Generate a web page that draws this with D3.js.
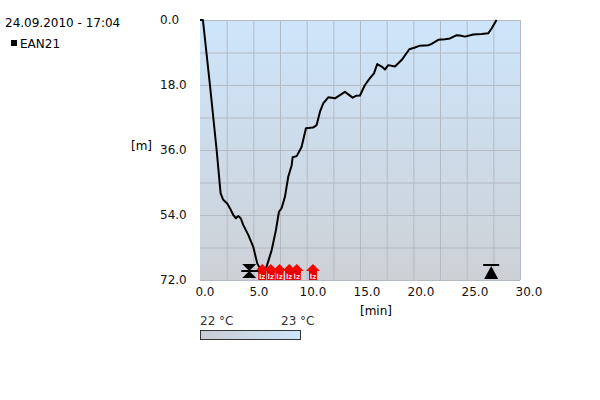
<!DOCTYPE html>
<html>
<head>
<meta charset="utf-8">
<script src="https://cdn.jsdelivr.net/npm/d3@7"></script>
<style>
  body { margin: 0; background: #fff; }
  text { font-family: "DejaVu Sans", sans-serif; }
</style>
</head>
<body>
<div id="canvas"></div>
<script>
// dive profile: time [min] vs depth [m]
const times = [-0.46, -0.19, 0.46, 1.08, 1.45, 1.69, 2.06, 2.31, 2.62, 2.87, 3.08, 3.31, 3.55, 4.01, 4.47, 4.84,
    5.28, 5.71, 6.18, 6.57, 6.85, 7.10, 7.41, 7.71, 8.03, 8.12, 8.49, 8.80, 8.95, 9.35, 10.0, 10.34, 10.65, 10.95,
    11.42, 12.04, 12.5, 12.96, 13.68, 13.98, 14.35, 14.81, 15.28, 15.65, 15.95, 16.36, 16.67, 16.97, 17.59, 18.21,
    18.92, 19.44, 19.91, 20.68, 20.99, 21.6, 22.22, 22.69, 23.31, 23.61, 24.07, 24.84, 25.62, 26.23, 26.55, 27.0];
const depths = [0, 0, 18.0, 36.0, 48.0, 49.8, 50.8, 52.1, 54.0, 54.9, 54.3, 54.9, 56.8, 59.5, 62.8, 67.4,
    69.8, 68.3, 63.7, 58.2, 53.1, 52.1, 48.9, 43.4, 40.2, 38.0, 37.7, 36.0, 35.1, 30.0, 29.8, 29.1, 25.4, 23.1,
    21.4, 21.7, 20.8, 19.9, 21.5, 21.0, 20.9, 18.0, 16.1, 14.8, 12.2, 12.9, 13.7, 12.5, 12.9, 11.1,
    8.1, 7.6, 7.1, 7.0, 6.6, 5.5, 5.3, 5.1, 4.2, 4.3, 4.6, 4.0, 3.9, 3.7, 2.3, 0];

const xTicks = [0, 5, 10, 15, 20, 25, 30];
const yTicks = [0, 18, 36, 54, 72];
const warnTimes = [5.3, 6.1, 6.9, 7.8, 8.5, 10.0];   // red markers
const bottomStart = 4.1;   // hourglass marker
const surfaceTime = 26.5;  // ascent marker
const tempLabels = ["22 °C", "23 °C"];
const title = "24.09.2010 - 17:04";
const seriesName = "EAN21";

const W = 600, H = 400;
const plot = {left: 200, right: 520, top: 20, bottom: 280};

const svg = d3.select("#canvas").append("svg")
    .attr("width", W).attr("height", H);

const defs = svg.append("defs");
const bg = defs.append("linearGradient").attr("id", "bg")
    .attr("x1", 0).attr("y1", 0).attr("x2", 0).attr("y2", 1);
bg.append("stop").attr("offset", "0%").attr("stop-color", "#cde5fb");
bg.append("stop").attr("offset", "100%").attr("stop-color", "#cdd1d6");

const tg = defs.append("linearGradient").attr("id", "tg")
    .attr("x1", 0).attr("y1", 0).attr("x2", 1).attr("y2", 0);
tg.append("stop").attr("offset", "0%").attr("stop-color", "#c9ccd1");
tg.append("stop").attr("offset", "100%").attr("stop-color", "#cde5fb");

defs.append("clipPath").attr("id", "clip").append("rect")
    .attr("x", plot.left).attr("y", plot.top - 2)
    .attr("width", plot.right - plot.left).attr("height", plot.bottom - plot.top + 2);

const x = d3.scaleLinear().domain([-0.46, 29.17]).range([plot.left, plot.right]);
const y = d3.scaleLinear().domain([0, 72]).range([plot.top, plot.bottom]);
const gx = d3.scaleLinear().domain([0, 12]).range([plot.left, plot.right]);

// background
svg.append("rect")
    .attr("x", plot.left).attr("y", plot.top)
    .attr("width", plot.right - plot.left).attr("height", plot.bottom - plot.top)
    .attr("fill", "url(#bg)");

// grid
svg.append("g").selectAll("line").data(d3.range(0, 73, 9)).join("line")
    .attr("x1", plot.left).attr("x2", plot.right)
    .attr("y1", d => y(d) + 0.5).attr("y2", d => y(d) + 0.5)
    .attr("stroke", "#b3bac2").attr("stroke-width", 1);
svg.append("g").selectAll("line").data(d3.range(1, 13)).join("line")
    .attr("x1", d => gx(d) + 0.5).attr("x2", d => gx(d) + 0.5)
    .attr("y1", plot.top).attr("y2", plot.bottom)
    .attr("stroke", "#b3bac2").attr("stroke-width", 1);

// tick labels
svg.append("g").selectAll("text").data(yTicks).join("text")
    .attr("x", 160).attr("y", d => y(d)).attr("dy", "0.35em")
    .style("font-size", "12px").attr("fill", "#111")
    .text(d => d.toFixed(1));
svg.append("g").selectAll("text").data(xTicks).join("text")
    .attr("x", d => x(d)).attr("y", 296).attr("text-anchor", "middle")
    .style("font-size", "12px").attr("fill", "#111")
    .text(d => d.toFixed(1));

svg.append("text").attr("x", 131).attr("y", 150).style("font-size", "12px").text("[m]");
svg.append("text").attr("x", 376).attr("y", 315).attr("text-anchor", "middle")
    .style("font-size", "12px").text("[min]");

// profile line
const pts = times.map((t, i) => [t, depths[i]]);
svg.append("path")
    .datum(pts)
    .attr("clip-path", "url(#clip)")
    .attr("fill", "none").attr("stroke", "#000").attr("stroke-width", 2)
    .attr("stroke-linejoin", "round")
    .attr("d", d3.line().x(d => x(d[0])).y(d => y(d[1])));

// red warning markers
const yb = y(72);
const warn = svg.append("g").selectAll("g").data(warnTimes).join("g")
    .attr("transform", d => `translate(${x(d)},${yb})`);
warn.append("path")
    .attr("d", "M0,-16 L7,-9 L4,-9 L4,-7 L-4,-7 L-4,-9 L-7,-9 Z")
    .attr("fill", "#f00");
warn.append("rect").attr("x", -4).attr("y", -9).attr("width", 8).attr("height", 9).attr("fill", "#e60000");
warn.append("text").attr("x", 0).attr("y", -1).attr("text-anchor", "middle")
    .style("font-size", "7px").style("font-weight", "bold").attr("fill", "#fdd").text("lz");

// hourglass marker
const hg = svg.append("g").attr("transform", `translate(${x(bottomStart)},${yb})`);
hg.append("path").attr("d", "M-7,-16 L7,-16 L0,-9 Z M-7,-2 L7,-2 L0,-9 Z").attr("fill", "#000");
hg.append("line").attr("x1", -8).attr("x2", 9).attr("y1", -9).attr("y2", -9)
    .attr("stroke", "#000").attr("stroke-width", 2);

// surface marker
const sm = svg.append("g").attr("transform", `translate(${x(surfaceTime)},${yb})`);
sm.append("path").attr("d", "M0,-14 L7,-1 L-7,-1 Z").attr("fill", "#000");
sm.append("line").attr("x1", -8).attr("x2", 8).attr("y1", -15).attr("y2", -15)
    .attr("stroke", "#000").attr("stroke-width", 2);

// title + legend
svg.append("text").attr("x", 5).attr("y", 27).style("font-size", "12px").text(title);
svg.append("rect").attr("x", 11).attr("y", 40).attr("width", 6).attr("height", 6).attr("fill", "#000");
svg.append("text").attr("x", 20).attr("y", 48).style("font-size", "12px").text(seriesName);

// temperature bar
svg.append("text").attr("x", 200).attr("y", 325).style("font-size", "12px").attr("fill", "#333").text(tempLabels[0]);
svg.append("text").attr("x", 281).attr("y", 325).style("font-size", "12px").attr("fill", "#333").text(tempLabels[1]);
svg.append("rect").attr("x", 200.5).attr("y", 330.5).attr("width", 100).attr("height", 9)
    .attr("fill", "url(#tg)").attr("stroke", "#333").attr("stroke-width", 1);
</script>
</body>
</html>
